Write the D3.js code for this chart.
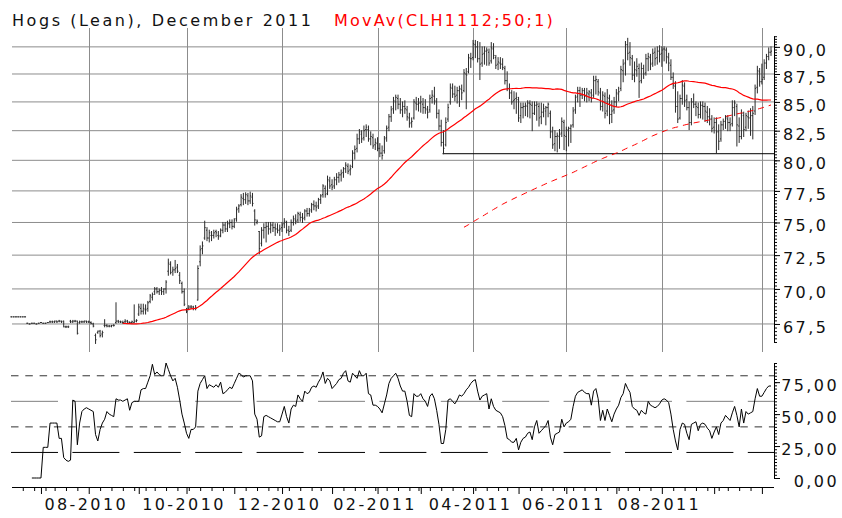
<!DOCTYPE html>
<html>
<head>
<meta charset="utf-8">
<script src="https://cdn.jsdelivr.net/npm/d3@7"></script>
<style>
body { margin: 0; background: #fff; }
svg { display: block; }
text { font-family: "DejaVu Sans", sans-serif; font-size: 16px; letter-spacing: 2.4px; }
</style>
</head>
<body>
<div id="chart-area"></div>
<script>
// trading calendar: weekdays from the first bar, minus exchange holidays
const startDate = "2010-06-14"
const holidays = ["2010-07-05", "2010-09-06", "2010-11-25", "2010-12-24", "2011-01-17",
    "2011-02-21", "2011-04-22", "2011-05-30", "2011-07-04", "2011-09-05"]

const open = [
    68.0,68.0,68.0,68.0,68.0,68.0,68.0,67.55,67.5,67.55,
    67.55,67.5,67.55,67.6,67.55,67.55,67.6,67.65,67.65,67.65,
    67.7,67.7,67.7,67.7,67.3,67.3,67.7,67.65,67.7,67.7,
    67.6,67.65,67.65,67.7,67.65,67.6,67.5,66.7,66.9,67.0,
    66.8,67.4,67.4,67.35,67.35,67.4,67.6,67.7,67.65,67.6,
    67.65,67.7,67.6,67.6,67.6,67.7,68.2,68.6,68.4,68.5,
    68.6,69.1,69.4,69.8,70.0,69.8,69.9,69.8,70.0,71.3,
    71.8,71.3,71.4,71.6,71.0,70.4,69.8,68.5,68.6,68.7,
    68.7,68.6,69.2,72.0,73.0,73.8,74.4,73.8,74.0,74.0,
    74.3,74.0,74.0,74.4,74.8,74.5,74.9,75.0,74.7,75.3,
    76.1,76.4,76.9,76.8,77.1,76.7,77.0,75.9,75.0,74.3,
    73.4,74.4,74.6,74.7,74.5,74.8,74.6,74.5,74.4,74.6,
    74.9,75.0,74.4,74.4,75.0,75.2,75.2,75.6,75.4,75.4,
    75.9,75.7,76.0,76.4,76.3,76.3,76.8,77.2,77.7,77.3,
    78.3,78.0,77.9,78.4,78.6,78.8,79.0,79.3,79.5,79.2,
    79.5,80.6,81.0,81.8,82.2,81.9,82.6,82.6,81.8,81.9,
    81.3,81.4,81.0,80.6,80.8,81.9,82.8,83.7,84.4,85.0,
    85.3,84.8,84.3,84.6,84.3,83.6,83.2,83.6,84.9,84.8,
    84.9,84.8,84.5,84.3,84.3,85.4,85.5,85.0,84.0,82.9,
    81.5,81.3,83.5,85.0,86.2,85.7,85.6,86.0,86.1,86.0,
    87.5,87.7,88.9,89.0,90.2,90.0,88.9,88.5,89.4,89.6,
    89.5,88.7,89.8,89.0,88.4,88.5,88.4,88.0,86.9,86.2,
    85.8,85.1,85.3,85.2,83.8,84.5,84.6,84.6,84.9,84.7,
    84.0,84.7,84.6,83.7,84.1,84.2,84.5,84.0,82.4,81.4,
    82.0,82.0,82.3,83.2,82.0,82.5,82.7,83.0,84.3,85.5,
    86.0,85.6,86.0,85.6,85.7,85.8,85.6,86.9,86.8,85.8,
    84.6,85.5,84.2,85.3,83.9,84.3,85.0,85.7,86.2,87.8,
    88.5,90.2,89.5,88.9,87.4,87.8,88.0,86.9,88.0,87.6,
    88.9,89.0,88.5,89.5,89.0,89.6,89.4,89.8,89.7,89.0,
    88.3,87.2,86.4,84.6,83.6,85.3,86.4,85.2,84.5,83.2,
    85.0,84.8,84.5,83.9,84.7,84.6,84.1,83.7,83.5,82.8,
    83.2,82.4,81.8,83.0,83.3,83.5,83.2,83.1,84.5,84.6,
    82.9,82.0,83.8,82.8,83.7,83.6,83.8,84.2,86.3,87.7,
    86.8,87.2,88.5,89.1,89.5
]
const high = [
    68.0,68.0,68.0,68.0,68.0,68.0,68.0,67.55,67.5,67.55,
    67.55,67.5,67.55,67.6,67.55,67.55,67.6,67.7,67.7,67.7,
    67.7,67.75,67.7,67.7,67.35,67.35,67.75,67.75,67.75,67.7,
    67.7,67.7,67.7,67.7,67.7,67.65,67.55,66.8,67.0,67.05,
    67.0,67.8,67.45,67.4,67.4,67.45,69.0,67.75,67.7,67.7,
    67.8,67.75,67.65,67.7,68.85,67.8,68.9,68.9,68.9,68.85,
    69.1,69.6,69.7,70.1,70.1,70.0,70.1,70.0,70.6,72.2,
    72.0,71.6,72.1,71.8,71.2,70.5,70.0,68.6,68.8,68.8,
    68.75,68.8,71.7,73.2,73.5,75.1,74.6,74.4,74.3,74.4,
    74.4,74.3,74.5,75.0,75.0,75.1,75.2,75.2,75.3,76.2,
    76.4,77.2,77.3,77.35,77.3,77.4,77.3,76.0,75.2,74.3,
    74.6,74.9,75.0,75.0,75.0,75.0,74.9,74.9,74.8,75.0,
    75.3,75.1,74.7,75.2,75.5,75.6,75.8,75.8,75.7,76.0,
    76.1,76.1,76.5,76.7,76.6,76.9,77.2,78.0,77.9,78.7,
    78.6,78.4,78.6,78.9,79.0,79.2,79.4,79.8,79.7,79.6,
    80.8,81.2,82.2,82.6,82.5,82.9,83.0,82.9,82.4,82.2,
    81.8,81.9,81.4,81.2,82.0,82.9,83.9,84.6,85.4,85.6,
    85.6,85.3,85.0,85.1,84.6,84.0,83.6,85.2,85.4,85.3,
    85.5,85.3,85.2,84.6,85.6,86.0,86.3,85.3,84.3,83.4,
    82.5,83.6,84.8,86.6,86.6,86.4,86.3,86.4,86.5,87.9,
    88.0,89.3,89.4,90.6,90.6,90.5,90.4,90.0,90.0,89.9,
    89.8,90.4,90.3,89.2,89.0,89.0,88.9,88.2,87.7,86.6,
    86.0,85.9,85.8,85.4,84.9,84.9,84.9,85.1,85.1,85.0,
    85.0,85.0,84.9,84.9,84.8,84.6,84.9,84.2,82.8,82.5,
    82.3,82.6,83.6,83.4,82.8,82.8,83.0,84.5,85.6,86.3,
    86.3,86.2,86.2,86.2,86.0,86.1,87.3,87.3,87.0,86.2,
    85.9,85.8,86.1,85.6,85.1,85.4,86.1,86.3,88.2,88.8,
    90.5,90.8,90.4,89.2,88.6,88.9,88.4,88.5,88.3,89.3,
    89.4,89.3,89.8,89.9,90.0,90.1,90.0,90.0,89.9,89.4,
    88.8,87.6,86.8,85.9,85.6,86.9,86.7,85.6,85.0,85.3,
    85.7,85.0,84.9,85.0,85.0,84.9,84.6,84.4,83.8,83.6,
    83.6,83.0,83.3,83.5,83.8,83.8,83.6,85.1,85.1,84.8,
    83.6,84.3,84.1,84.0,84.2,84.4,84.6,86.5,88.2,88.0,
    88.4,88.8,89.3,89.9,90.0
]
const low = [
    68.0,68.0,68.0,68.0,68.0,68.0,68.0,67.55,67.5,67.55,
    67.55,67.5,67.55,67.6,67.55,67.55,67.6,67.6,67.6,67.6,
    67.6,67.65,67.6,67.3,67.25,67.25,67.6,67.6,67.65,66.8,
    67.55,67.6,67.6,67.6,67.6,67.5,67.3,66.15,66.85,66.6,
    66.6,67.3,67.3,67.3,67.3,67.35,67.55,67.6,67.6,67.55,
    67.6,67.6,67.55,67.55,67.6,67.65,68.1,68.2,68.2,68.2,
    68.4,69.0,69.2,69.6,69.7,69.6,69.6,69.6,69.7,71.0,
    71.1,71.0,71.2,71.2,70.4,69.7,68.8,68.3,68.5,68.6,
    68.5,68.5,69.2,71.7,72.6,73.7,73.6,73.5,73.6,73.8,
    73.9,73.7,73.9,74.2,74.3,74.3,74.6,74.5,74.6,75.1,
    75.8,76.3,76.4,76.5,76.4,76.5,76.3,74.8,74.9,72.6,
    73.2,73.8,73.5,74.1,74.2,74.3,74.0,74.2,74.0,74.3,
    74.6,74.2,74.0,74.3,74.8,74.9,75.0,75.1,75.0,75.2,
    75.5,75.5,75.8,76.0,75.9,76.1,76.5,77.0,77.0,77.2,
    77.7,77.6,77.7,78.0,78.2,78.3,78.6,79.0,78.9,78.8,
    79.4,80.1,80.7,81.4,81.5,81.7,82.0,81.6,81.3,81.0,
    80.9,80.8,80.3,80.1,80.6,81.6,82.5,83.3,84.0,84.3,
    84.4,84.0,83.7,84.0,83.4,82.8,82.8,83.5,84.3,84.2,
    84.1,84.0,84.0,83.6,84.1,84.9,84.8,83.6,82.6,81.2,
    80.55,81.2,83.3,84.8,85.4,85.1,84.9,84.6,85.2,85.9,
    84.4,87.6,88.1,88.8,89.0,88.6,87.0,88.2,88.4,88.3,
    88.3,88.5,88.9,88.0,87.9,88.0,87.9,86.6,86.0,85.3,
    84.8,84.4,84.0,83.3,83.2,83.6,83.8,83.7,83.6,82.5,
    83.9,83.4,82.9,83.1,83.7,83.0,83.7,81.9,81.0,80.8,
    80.7,81.0,82.0,80.9,80.8,81.2,81.5,82.8,84.0,85.0,
    84.6,85.3,85.1,85.0,85.1,85.0,85.4,85.7,85.6,84.3,
    84.2,83.6,83.8,83.1,83.2,84.0,84.6,85.1,86.0,86.8,
    87.4,88.8,88.3,87.0,86.8,87.3,85.4,86.7,87.1,87.4,
    87.8,87.9,88.2,88.3,88.4,88.6,88.2,88.7,88.5,87.8,
    87.0,86.2,84.1,83.2,83.5,84.8,84.6,84.3,82.6,83.0,
    84.5,83.8,83.6,83.6,83.5,83.3,83.2,83.0,82.4,82.3,
    80.6,80.9,81.6,82.6,82.7,82.5,82.5,82.9,83.8,81.2,
    81.5,81.8,82.0,82.5,82.7,82.1,81.8,83.9,85.8,86.4,
    86.6,87.0,88.0,88.8,89.2
]
const close = [
    68.0,68.0,68.0,68.0,68.0,68.0,68.0,67.55,67.5,67.55,
    67.55,67.5,67.55,67.6,67.55,67.55,67.6,67.65,67.65,67.7,
    67.65,67.7,67.65,67.3,67.3,67.3,67.65,67.7,67.7,66.85,
    67.65,67.65,67.7,67.65,67.65,67.55,67.35,66.4,67.0,66.7,
    66.9,67.4,67.35,67.35,67.4,67.4,67.7,67.65,67.65,67.6,
    67.7,67.65,67.6,67.65,67.7,67.75,68.7,68.4,68.6,68.5,
    69.0,69.5,69.6,70.0,69.8,69.9,69.8,70.0,70.5,71.9,
    71.2,71.4,71.5,71.3,70.6,69.8,68.9,68.4,68.7,68.7,
    68.6,68.6,71.5,72.9,73.2,74.6,73.8,74.2,74.0,74.2,
    74.2,73.9,74.4,74.8,74.5,74.9,75.0,74.7,75.2,76.0,
    76.3,77.0,76.8,77.2,76.7,77.1,76.5,75.2,75.1,73.0,
    74.4,74.6,74.7,74.5,74.8,74.6,74.5,74.4,74.5,74.8,
    75.1,74.4,74.3,75.0,75.3,75.1,75.7,75.4,75.3,75.9,
    75.7,75.9,76.4,76.3,76.2,76.8,77.1,77.9,77.2,78.4,
    77.9,77.8,78.4,78.6,78.8,78.9,79.3,79.6,79.1,79.3,
    80.6,80.9,81.8,82.4,81.8,82.5,82.8,81.8,82.0,81.2,
    81.5,81.0,80.6,80.4,81.8,82.7,83.7,84.3,85.1,85.4,
    84.8,84.3,84.6,84.4,83.7,83.1,83.3,85.0,84.8,84.9,
    85.0,84.5,84.4,84.1,85.3,85.6,85.1,84.0,82.9,81.5,
    81.0,83.2,84.5,86.3,85.7,85.5,86.0,86.2,85.8,87.6,
    87.4,89.0,88.9,90.3,90.0,88.9,88.4,89.3,89.6,89.7,
    88.5,89.9,89.2,88.3,88.6,88.4,88.1,86.9,86.2,85.8,
    85.0,85.2,85.4,83.6,84.5,84.6,84.7,84.9,84.8,84.0,
    84.7,84.8,83.6,84.1,84.4,84.5,84.8,82.4,81.3,82.0,
    82.1,82.2,83.3,82.1,82.6,82.7,82.9,84.2,85.4,86.0,
    85.6,86.0,85.5,85.8,85.9,85.3,86.9,87.0,85.9,84.6,
    85.6,84.0,85.4,83.9,84.2,85.0,85.8,85.9,87.9,88.4,
    90.2,89.4,89.0,87.4,87.9,88.2,86.8,88.0,87.5,88.9,
    89.1,88.4,89.4,88.9,89.6,89.3,89.7,89.8,89.1,88.5,
    87.2,86.5,84.6,83.5,85.3,86.5,85.1,84.5,83.2,85.0,
    84.8,84.6,83.9,84.7,84.6,84.2,83.7,83.5,82.7,83.2,
    82.4,81.6,83.0,83.3,83.6,83.2,83.0,84.5,84.9,83.0,
    82.0,84.0,82.6,83.8,83.6,83.8,84.0,86.2,87.8,86.8,
    87.0,88.5,89.1,89.5,89.6
]
// lower panel oscillator, null before it starts
const osc = [
    null,null,null,null,null,null,null,null,null,0,
    0,0,0,0,24,24,24,43,43,43,
    43,31,31,16,14,13,14,61,60,26,
    43,52,54,55,54,53,52,34,29,38,
    43,46,52,50,49,48,62,61,61,60,
    61,62,53,59,60,60,60,69,70,70,
    75,80,89,81,83,81,80,80,90,85,
    80,76,78,71,61,50,43,35,31,38,
    38,40,68,74,77,80,70,73,72,71,
    73,71,75,66,67,69,71,70,74,78,
    82,81,79,80,80,80,76,50,46,32,
    33,48,49,48,47,46,45,44,44,50,
    56,48,43,54,57,56,65,62,60,68,
    66,67,71,72,71,75,78,83,74,78,
    76,70,72,74,77,78,82,84,76,75,
    82,80,78,84,80,80,82,66,65,57,
    57,56,54,51,58,65,74,78,80,82,
    78,72,68,68,60,49,48,66,64,64,
    66,62,60,56,64,66,62,53,42,27,
    27,38,61,62,60,58,61,65,64,66,
    69,71,74,76,77,68,61,64,65,66,
    54,62,56,53,52,51,48,41,31,30,
    28,28,31,22,28,31,32,35,36,30,
    40,45,35,37,39,41,45,32,26,34,
    35,36,46,40,43,44,46,56,64,67,
    68,69,67,66,66,57,68,70,62,45,
    53,45,54,49,44,50,54,57,63,66,
    74,70,67,56,54,53,49,53,51,50,
    60,57,56,55,56,58,61,62,61,59,
    50,38,29,22,38,43,42,35,30,42,
    43,44,37,42,43,42,39,37,31,36,
    40,34,43,45,49,47,45,51,56,49,
    40,54,43,52,50,51,52,62,70,64,
    64,67,70,72,72
]

const priceTicks = [67.5, 70, 72.5, 75, 77.5, 80, 82.5, 85, 87.5, 90]
const oscTicks = [0, 25, 50, 75]
const oscLevels = [20, 40, 60, 80]
const maShort = 50, maLong = 200
const supportValue = 80.55, supportFromBar = 190

const titleText = "Hogs (Lean), December 2011"
const studyText = "MovAv(CLH1112;50;1)"

const width = 842, height = 518
const left = 12, right = 774
const n = close.length

const svg = d3.select("#chart-area").append("svg")
    .attr("width", width)
    .attr("height", height)

// build the trading days
const parseDay = d3.timeParse("%Y-%m-%d"), fmtDay = d3.timeFormat("%Y-%m-%d")
const dates = []
let day = parseDay(startDate)
while (dates.length < n) {
    const wd = day.getDay()
    if (wd !== 0 && wd !== 6 && holidays.indexOf(fmtDay(day)) < 0) dates.push(day)
    day = d3.timeDay.offset(day, 1)
}
const monthStarts = [], weekStarts = []
dates.forEach(function(d, i) {
    if (i === 0) return
    if (d.getMonth() !== dates[i - 1].getMonth()) monthStarts.push(i)
    else if (+d3.timeMonday.floor(d) !== +d3.timeMonday.floor(dates[i - 1])) weekStarts.push(i)
})
const gridMonths = monthStarts.filter(function(i) { return dates[i].getMonth() % 2 === 1 })

const x = d3.scaleLinear().domain([0, n - 1]).range([11.4, 771])
const y = d3.scaleLog().domain([65.7, 91.78]).range([350, 28])
const yo = d3.scaleLinear().domain([0, 90]).range([478, 363])

const locale = d3.formatLocale({ decimal: ",", thousands: ".", grouping: [3], currency: ["", ""] })

// grid
const grid = svg.append("g").attr("stroke", "#8c8c8c").attr("stroke-width", 1)
grid.selectAll(".vgrid").data(gridMonths).enter().append("line")
    .attr("x1", function(i) { return Math.round(x(i)) + 0.5 })
    .attr("x2", function(i) { return Math.round(x(i)) + 0.5 })
    .attr("y1", 28).attr("y2", 352)
grid.selectAll(".hgrid").data(priceTicks).enter().append("line")
    .attr("x1", left).attr("x2", right)
    .attr("y1", function(d) { return y(d) })
    .attr("y2", function(d) { return y(d) })

// support line from the spring low
svg.append("line")
    .attr("x1", x(supportFromBar) - 1).attr("x2", right)
    .attr("y1", y(supportValue)).attr("y2", y(supportValue))
    .attr("stroke", "#000")

// OHLC bars
svg.append("g")
    .attr("stroke", "#2a2a2a").attr("stroke-width", 1).attr("fill", "none")
    .selectAll("path").data(d3.range(n)).enter().append("path")
    .attr("d", function(i) {
        const xi = x(i)
        return "M" + xi + "," + (y(high[i]) - 0.5) + "V" + (y(low[i]) + 0.5) +
            "M" + (xi - 1) + "," + y(open[i]) + "H" + xi +
            "M" + xi + "," + y(close[i]) + "H" + (xi + 1)
    })

// moving averages of the close
function sma(period) {
    return close.map(function(c, i) {
        return i < period - 1 ? null : d3.mean(close.slice(i - period + 1, i + 1))
    })
}
const maLine = d3.line()
    .defined(function(v) { return v !== null })
    .x(function(v, i) { return x(i) })
    .y(function(v) { return y(v) })
svg.append("path").datum(sma(maLong))
    .attr("d", maLine).attr("fill", "none")
    .attr("stroke", "#ff0000").attr("stroke-width", 1).attr("stroke-dasharray", "6,5")
svg.append("path").datum(sma(maShort))
    .attr("d", maLine).attr("fill", "none")
    .attr("stroke", "#ff0000").attr("stroke-width", 1.2)

// price axis on the right
const pMinor = svg.append("g").attr("transform", "translate(" + right + ",0)")
    .call(d3.axisRight(y).tickValues(d3.range(265, 365).map(function(v) { return v / 4 }))
        .tickSize(3).tickFormat(""))
pMinor.select(".domain").remove()
const pMajor = svg.append("g").attr("transform", "translate(" + right + ",0)")
    .call(d3.axisRight(y).tickValues(priceTicks).tickSize(6).tickFormat(locale.format(".1f")))
pMajor.select(".domain").remove()
pMajor.attr("font-family", null).attr("font-size", null)
pMajor.selectAll("text").attr("x", 9).attr("dy", "0.53em").attr("fill", "#111")
svg.append("line")
    .attr("x1", right + 0.5).attr("x2", right + 0.5)
    .attr("y1", y(91)).attr("y2", y(66.25))
    .attr("stroke", "#000")

// oscillator panel
const levelStyle = {
    20: { stroke: "#000", dash: "47,14.4" },
    40: { stroke: "#333", dash: "7.5,6.8" },
    60: { stroke: "#808080", dash: "47,14.4" },
    80: { stroke: "#333", dash: "7.5,6.8" }
}
svg.append("g").selectAll("line").data(oscLevels).enter().append("line")
    .attr("x1", 11).attr("x2", right)
    .attr("y1", function(d) { return yo(d) })
    .attr("y2", function(d) { return yo(d) })
    .attr("stroke", function(d) { return levelStyle[d].stroke })
    .attr("stroke-dasharray", function(d) { return levelStyle[d].dash })

const oscLine = d3.line()
    .defined(function(v) { return v !== null })
    .x(function(v, i) { return x(i) })
    .y(function(v) { return yo(v) })
svg.append("path").datum(osc)
    .attr("d", oscLine).attr("fill", "none")
    .attr("stroke", "#000").attr("stroke-width", 1)

const oMinor = svg.append("g").attr("transform", "translate(" + right + ",0)")
    .call(d3.axisRight(yo).tickValues(d3.range(0, 37).map(function(v) { return v * 2.5 }))
        .tickSize(3).tickFormat(""))
oMinor.select(".domain").remove()
const oMajor = svg.append("g").attr("transform", "translate(" + right + ",0)")
    .call(d3.axisRight(yo).tickValues(oscTicks).tickSize(6).tickFormat(locale.format(".2f")))
oMajor.select(".domain").remove()
oMajor.attr("font-family", null).attr("font-size", null)
oMajor.selectAll("text").attr("x", 65).attr("dy", "0.53em")
    .attr("text-anchor", "end").attr("fill", "#111")
svg.append("line")
    .attr("x1", right + 0.5).attr("x2", right + 0.5)
    .attr("y1", yo(90)).attr("y2", yo(0))
    .attr("stroke", "#000")

// date axis
const xAxisY = 487
const fmtMonth = d3.timeFormat("%m-%Y")
svg.append("line")
    .attr("x1", left).attr("x2", right)
    .attr("y1", xAxisY + 0.5).attr("y2", xAxisY + 0.5)
    .attr("stroke", "#000")
const wAxis = svg.append("g").attr("transform", "translate(0," + xAxisY + ")")
    .call(d3.axisBottom(x).tickValues(weekStarts).tickSize(4).tickFormat(""))
wAxis.select(".domain").remove()
const mAxis = svg.append("g").attr("transform", "translate(0," + xAxisY + ")")
    .call(d3.axisBottom(x).tickValues(monthStarts).tickSize(7)
        .tickFormat(function(i) {
            return gridMonths.indexOf(i) >= 0 && x(i) < right - 40 ? fmtMonth(dates[i]) : ""
        }))
mAxis.select(".domain").remove()
mAxis.attr("font-family", null).attr("font-size", null)
mAxis.selectAll("text").attr("y", 12).attr("dx", -3).attr("fill", "#111")

// titles
svg.append("text").attr("x", 12).attr("y", 26).attr("fill", "#111")
    .style("letter-spacing", "2.55px").text(titleText)
svg.append("text").attr("x", 334).attr("y", 26).attr("fill", "#ff0000")
    .style("letter-spacing", "2.2px").text(studyText)
</script>
</body>
</html>
